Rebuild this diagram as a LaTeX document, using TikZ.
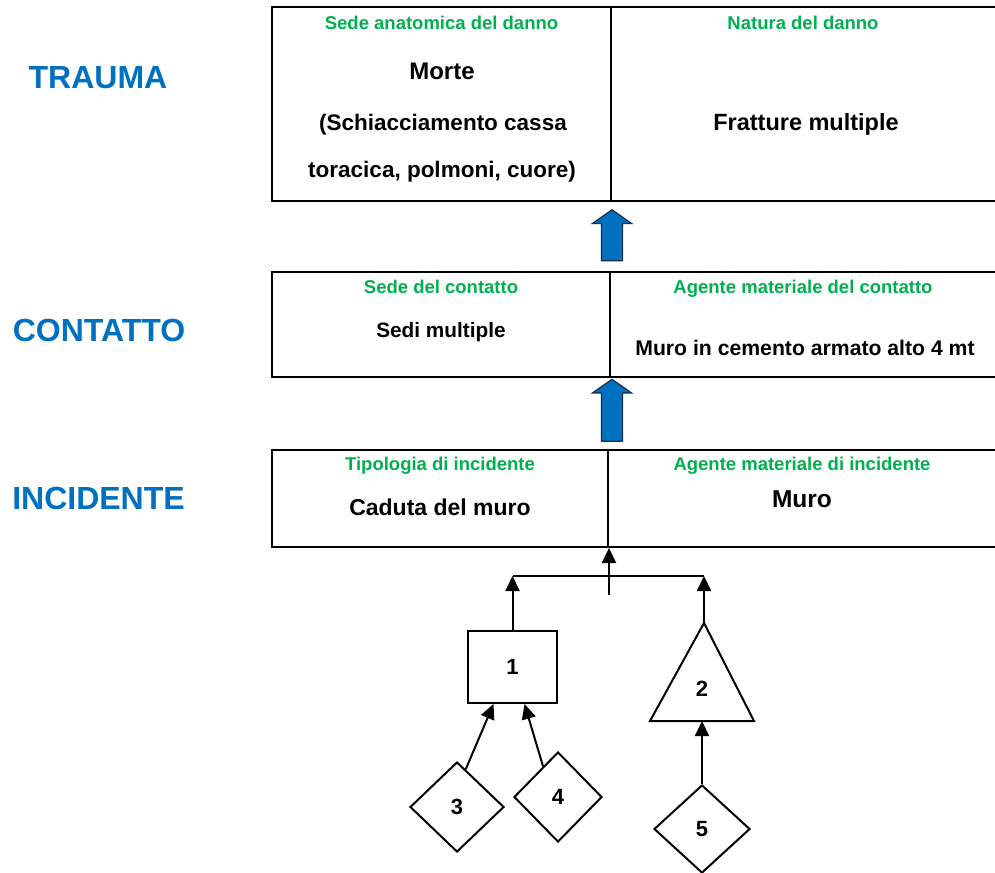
\documentclass[tikz,border=0pt]{standalone}
\usepackage{fontspec}
\setmainfont{Liberation Sans}
\usetikzlibrary{arrows.meta,shapes.geometric,shapes.arrows}
\definecolor{LevelBlue}{RGB}{0,112,192}
\definecolor{TitleGreen}{RGB}{0,176,80}
\definecolor{ArrowEdge}{RGB}{25,45,75}
\tikzset{
  cell/.style={draw,line width=2pt,inner sep=0pt},
  level/.style={anchor=base,text=LevelBlue,font=\fontsize{32}{38}\selectfont\bfseries},
  title/.style={anchor=base,text=TitleGreen,font=\fontsize{18.5}{22}\selectfont\bfseries},
  entry/.style={anchor=base,font=\fontsize{#1}{#1}\selectfont\bfseries},
  uparrow/.style={single arrow,draw=ArrowEdge,fill=LevelBlue,line width=1.2pt,
    inner xsep=0pt,inner ysep=10pt,single arrow head extend=9pt,single arrow tip angle=110,
    single arrow head indent=0pt,rotate=90},
  link/.style={line width=2pt,-{Triangle[length=15pt,width=14pt]}},
  gate/.style={draw,line width=2pt,inner sep=0pt,font=\fontsize{22}{22}\selectfont\bfseries},
  event/.style={gate,diamond}
}
\begin{document}
\begin{tikzpicture}[x=1pt,y=-1pt]
  \clip (0,0) rectangle (995,872);

  % levels
  \node[level] (trauma) at (98,89) {TRAUMA};
  \node[level] (contatto) at (99,341) {CONTATTO};
  \node[level] (incidente) at (98.5,509) {INCIDENTE};

  % top row
  \node[cell,minimum width=339pt,minimum height=194pt] (traumaL) at (441.5,104) {};
  \node[cell,minimum width=387pt,minimum height=194pt] (traumaR) at (804.5,104) {};
  \node[title] at (441.5,30) {Sede anatomica del danno};
  \node[title] at (803,30) {Natura del danno};
  \node[entry=24] at (442,80) {Morte};
  \node[entry=22.5] at (443,130) {(Schiacciamento cassa};
  \node[entry=22.5] at (442,177) {toracica, polmoni, cuore)};
  \node[entry=23.5] at (806,130) {Fratture multiple};

  % middle row
  \node[cell,minimum width=338pt,minimum height=105pt] (contL) at (441,324.5) {};
  \node[cell,minimum width=388pt,minimum height=105pt] (contR) at (804,324.5) {};
  \node[title] at (441,293) {Sede del contatto};
  \node[title] at (803,293) {Agente materiale del contatto};
  \node[entry=20.8] at (441,337) {Sedi multiple};
  \node[entry=21.2] at (805,355) {Muro in cemento armato alto 4 mt};

  % bottom row
  \node[cell,minimum width=336pt,minimum height=97pt] (incL) at (440,498.5) {};
  \node[cell,minimum width=390pt,minimum height=97pt] (incR) at (803,498.5) {};
  \node[title] at (440,470) {Tipologia di incidente};
  \node[title] at (802,470) {Agente materiale di incidente};
  \node[entry=23] at (440,515) {Caduta del muro};
  \node[entry=24.5] at (802,507) {Muro};

  \node[uparrow,minimum height=51pt] (up1) at (612,239) {};
  \node[uparrow,minimum height=62pt] (up2) at (612,414) {};

  % tree
  \node[gate,minimum width=89pt,minimum height=72pt] (b1) at (512.5,667) {1};
  \coordinate (t2top) at (704,623);
  \draw[line width=2pt] (t2top) -- (754,721) -- (650,721) -- cycle;
  \node[font=\fontsize{22}{22}\selectfont\bfseries] (n2) at (702,689) {2};
  \node[event,minimum width=94pt,minimum height=90pt] (d3) at (457,807) {3};
  \node[event,minimum width=88pt,minimum height=90pt] (d4) at (558,797) {4};
  \node[event,minimum width=96pt,minimum height=88pt] (d5) at (702,829) {5};

  \coordinate (barL) at (512.5,576);
  \coordinate (barR) at (704,576);
  \coordinate (stub) at (609,595);
  \draw[line width=2pt] (barL) -- (barR);
  \draw[link] (stub) -- (stub |- incL.south);
  \draw[link] (b1.north) -- (barL);
  \draw[link] (t2top) -- (barR);
  \draw[link] (d3.77) -- ([xshift=-19pt]b1.south);
  \draw[link] (d4.116) -- ([xshift=12pt]b1.south);
  \draw[link] (d5.north) -- (d5.north |- 0,721);
\end{tikzpicture}
\end{document}
